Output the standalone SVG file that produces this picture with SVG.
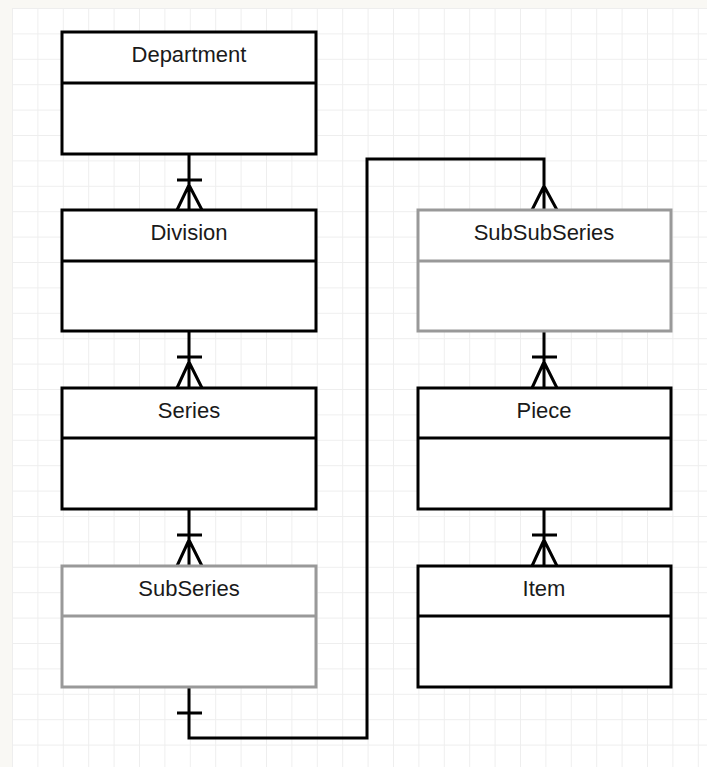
<svg xmlns="http://www.w3.org/2000/svg" width="707" height="767" viewBox="0 0 707 767">
  <defs>
    <pattern id="grid" x="12" y="8" width="25.4" height="25.4" patternUnits="userSpaceOnUse">
      <path d="M0 0.5 H25.4 M0.5 0 V25.4" fill="none" stroke="#eeeeee" stroke-width="1"/>
    </pattern>
    <style>
      .box { fill: #ffffff; stroke: #000000; stroke-width: 3; }
      .box.muted { stroke: #999999; }
      .sep { stroke: #000000; stroke-width: 3; }
      .muted .sep { stroke: #999999; }
      .label { font-family: "Liberation Sans", Arial, sans-serif; font-size: 22px; fill: #1a1a1a; text-anchor: middle; }
      .link { fill: none; stroke: #000000; stroke-width: 3; stroke-linejoin: miter; }
    </style>
  </defs>

  <!-- page background and grid -->
  <rect x="0" y="0" width="707" height="767" fill="#f9f8f4"/>
  <rect x="12" y="8" width="695" height="759" fill="#ffffff"/>
  <rect x="12" y="8" width="695" height="759" fill="url(#grid)"/>

  <!-- connectors -->
  <g id="connectors">
    <!-- Department to Division -->
    <path class="link" d="M189 154 V210 M177 180 H202 M189 185 L177 210 M189 185 L202 210"/>
    <!-- Division to Series -->
    <path class="link" d="M189 331 V388 M177 357 H202 M189 362 L177 388 M189 362 L202 388"/>
    <!-- Series to SubSeries -->
    <path class="link" d="M189 509 V566 M177 535 H202 M189 540 L177 566 M189 540 L202 566"/>
    <!-- SubSeries to SubSubSeries -->
    <path class="link" d="M189 687 V738 H367 V159 H544 V210 M177 713 H202 M544 186 L532 210 M544 186 L557 210"/>
    <!-- SubSubSeries to Piece -->
    <path class="link" d="M544 331 V388 M532 357 H557 M544 362 L532 388 M544 362 L557 388"/>
    <!-- Piece to Item -->
    <path class="link" d="M544 509 V566 M532 535 H557 M544 540 L532 566 M544 540 L557 566"/>
  </g>

  <!-- entities -->
  <g id="department">
    <rect class="box" x="62" y="32" width="254" height="122"/>
    <line class="sep" x1="62" y1="83" x2="316" y2="83"/>
    <text class="label" x="189" y="62">Department</text>
  </g>
  <g id="division">
    <rect class="box" x="62" y="210" width="254" height="121"/>
    <line class="sep" x1="62" y1="261" x2="316" y2="261"/>
    <text class="label" x="189" y="240">Division</text>
  </g>
  <g id="series">
    <rect class="box" x="62" y="388" width="254" height="121"/>
    <line class="sep" x1="62" y1="438" x2="316" y2="438"/>
    <text class="label" x="189" y="418">Series</text>
  </g>
  <g id="subseries" class="muted">
    <rect class="box muted" x="62" y="566" width="254" height="121"/>
    <line class="sep" x1="62" y1="616" x2="316" y2="616"/>
    <text class="label" x="189" y="596">SubSeries</text>
  </g>
  <g id="subsubseries" class="muted">
    <rect class="box muted" x="418" y="210" width="253" height="121"/>
    <line class="sep" x1="418" y1="261" x2="671" y2="261"/>
    <text class="label" x="544" y="240">SubSubSeries</text>
  </g>
  <g id="piece">
    <rect class="box" x="418" y="388" width="253" height="121"/>
    <line class="sep" x1="418" y1="438" x2="671" y2="438"/>
    <text class="label" x="544" y="418">Piece</text>
  </g>
  <g id="item">
    <rect class="box" x="418" y="566" width="253" height="121"/>
    <line class="sep" x1="418" y1="616" x2="671" y2="616"/>
    <text class="label" x="544" y="596">Item</text>
  </g>
</svg>
